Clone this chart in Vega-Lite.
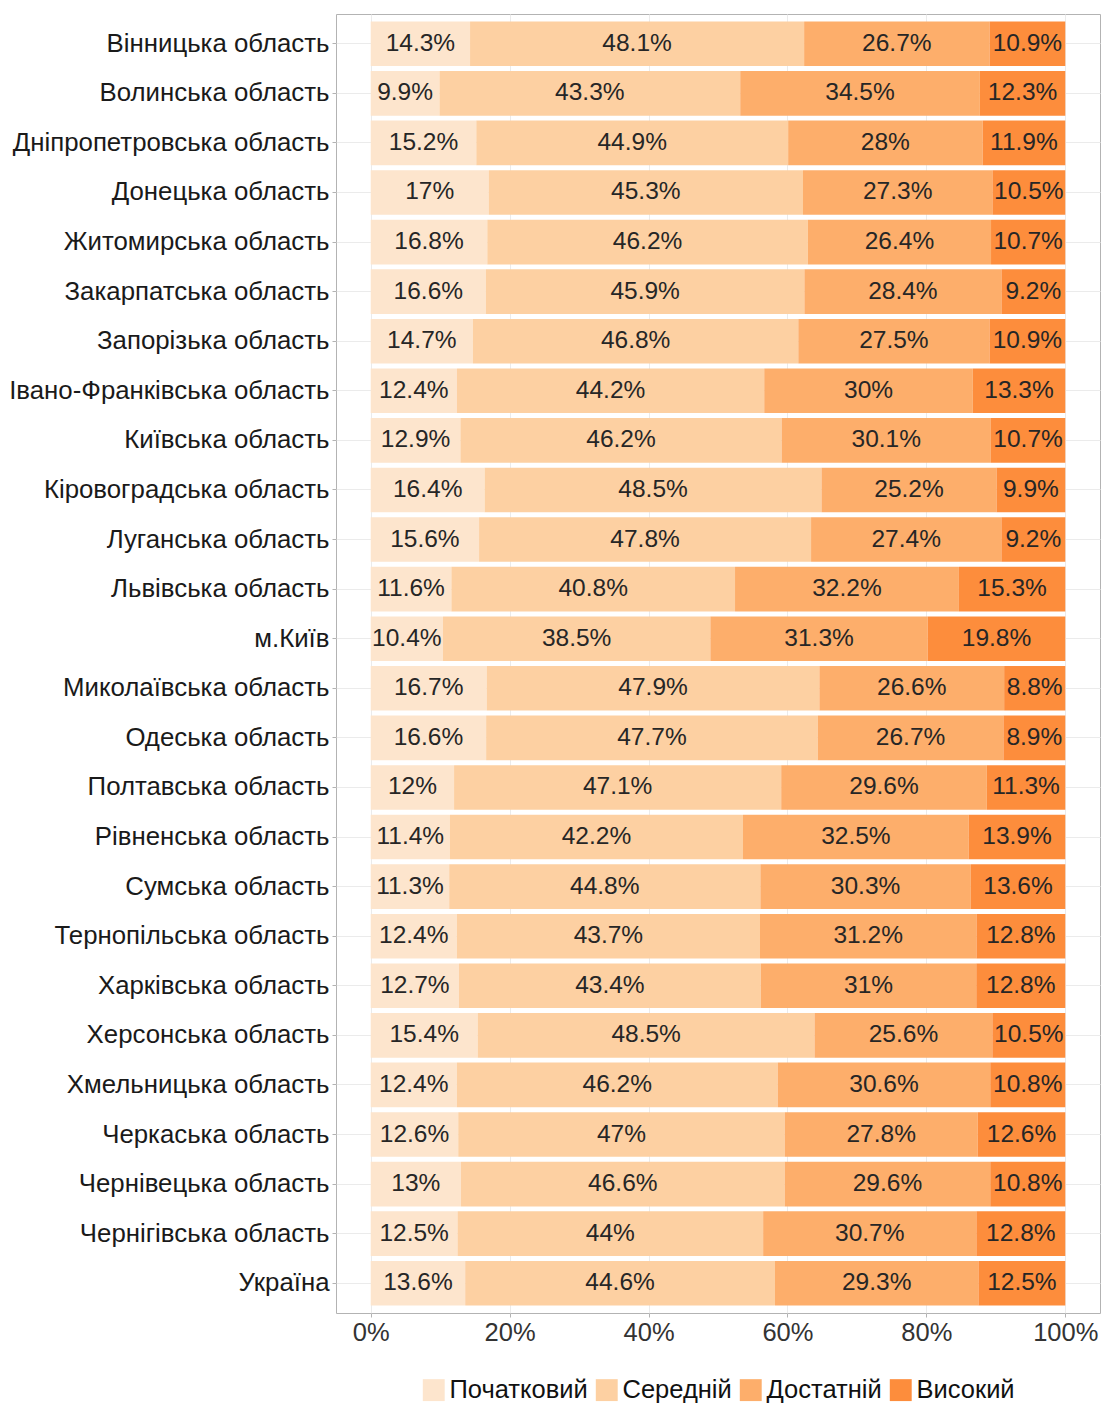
{
 "$schema": "https://vega.github.io/schema/vega-lite/v6.json",
 "width": 764,
 "height": 1299,
 "padding": {"left": 8, "top": 14, "right": 2, "bottom": 5},
 "background": "white",
 "config": {
  "font": "Liberation Sans",
  "view": {"stroke": "#b3b3b3", "strokeWidth": 1},
  "legend": {"layout": {"bottom": {"anchor": "middle"}}}
 },
 "data": {"values": [
  {"r":"Вінницька область","k":"Початковий","o":1,"v":14.3},{"r":"Вінницька область","k":"Середній","o":2,"v":48.1},{"r":"Вінницька область","k":"Достатній","o":3,"v":26.7},{"r":"Вінницька область","k":"Високий","o":4,"v":10.9},
  {"r":"Волинська область","k":"Початковий","o":1,"v":9.9},{"r":"Волинська область","k":"Середній","o":2,"v":43.3},{"r":"Волинська область","k":"Достатній","o":3,"v":34.5},{"r":"Волинська область","k":"Високий","o":4,"v":12.3},
  {"r":"Дніпропетровська область","k":"Початковий","o":1,"v":15.2},{"r":"Дніпропетровська область","k":"Середній","o":2,"v":44.9},{"r":"Дніпропетровська область","k":"Достатній","o":3,"v":28},{"r":"Дніпропетровська область","k":"Високий","o":4,"v":11.9},
  {"r":"Донецька область","k":"Початковий","o":1,"v":17},{"r":"Донецька область","k":"Середній","o":2,"v":45.3},{"r":"Донецька область","k":"Достатній","o":3,"v":27.3},{"r":"Донецька область","k":"Високий","o":4,"v":10.5},
  {"r":"Житомирська область","k":"Початковий","o":1,"v":16.8},{"r":"Житомирська область","k":"Середній","o":2,"v":46.2},{"r":"Житомирська область","k":"Достатній","o":3,"v":26.4},{"r":"Житомирська область","k":"Високий","o":4,"v":10.7},
  {"r":"Закарпатська область","k":"Початковий","o":1,"v":16.6},{"r":"Закарпатська область","k":"Середній","o":2,"v":45.9},{"r":"Закарпатська область","k":"Достатній","o":3,"v":28.4},{"r":"Закарпатська область","k":"Високий","o":4,"v":9.2},
  {"r":"Запорізька область","k":"Початковий","o":1,"v":14.7},{"r":"Запорізька область","k":"Середній","o":2,"v":46.8},{"r":"Запорізька область","k":"Достатній","o":3,"v":27.5},{"r":"Запорізька область","k":"Високий","o":4,"v":10.9},
  {"r":"Івано-Франківська область","k":"Початковий","o":1,"v":12.4},{"r":"Івано-Франківська область","k":"Середній","o":2,"v":44.2},{"r":"Івано-Франківська область","k":"Достатній","o":3,"v":30},{"r":"Івано-Франківська область","k":"Високий","o":4,"v":13.3},
  {"r":"Київська область","k":"Початковий","o":1,"v":12.9},{"r":"Київська область","k":"Середній","o":2,"v":46.2},{"r":"Київська область","k":"Достатній","o":3,"v":30.1},{"r":"Київська область","k":"Високий","o":4,"v":10.7},
  {"r":"Кіровоградська область","k":"Початковий","o":1,"v":16.4},{"r":"Кіровоградська область","k":"Середній","o":2,"v":48.5},{"r":"Кіровоградська область","k":"Достатній","o":3,"v":25.2},{"r":"Кіровоградська область","k":"Високий","o":4,"v":9.9},
  {"r":"Луганська область","k":"Початковий","o":1,"v":15.6},{"r":"Луганська область","k":"Середній","o":2,"v":47.8},{"r":"Луганська область","k":"Достатній","o":3,"v":27.4},{"r":"Луганська область","k":"Високий","o":4,"v":9.2},
  {"r":"Львівська область","k":"Початковий","o":1,"v":11.6},{"r":"Львівська область","k":"Середній","o":2,"v":40.8},{"r":"Львівська область","k":"Достатній","o":3,"v":32.2},{"r":"Львівська область","k":"Високий","o":4,"v":15.3},
  {"r":"м.Київ","k":"Початковий","o":1,"v":10.4},{"r":"м.Київ","k":"Середній","o":2,"v":38.5},{"r":"м.Київ","k":"Достатній","o":3,"v":31.3},{"r":"м.Київ","k":"Високий","o":4,"v":19.8},
  {"r":"Миколаївська область","k":"Початковий","o":1,"v":16.7},{"r":"Миколаївська область","k":"Середній","o":2,"v":47.9},{"r":"Миколаївська область","k":"Достатній","o":3,"v":26.6},{"r":"Миколаївська область","k":"Високий","o":4,"v":8.8},
  {"r":"Одеська область","k":"Початковий","o":1,"v":16.6},{"r":"Одеська область","k":"Середній","o":2,"v":47.7},{"r":"Одеська область","k":"Достатній","o":3,"v":26.7},{"r":"Одеська область","k":"Високий","o":4,"v":8.9},
  {"r":"Полтавська область","k":"Початковий","o":1,"v":12},{"r":"Полтавська область","k":"Середній","o":2,"v":47.1},{"r":"Полтавська область","k":"Достатній","o":3,"v":29.6},{"r":"Полтавська область","k":"Високий","o":4,"v":11.3},
  {"r":"Рівненська область","k":"Початковий","o":1,"v":11.4},{"r":"Рівненська область","k":"Середній","o":2,"v":42.2},{"r":"Рівненська область","k":"Достатній","o":3,"v":32.5},{"r":"Рівненська область","k":"Високий","o":4,"v":13.9},
  {"r":"Сумська область","k":"Початковий","o":1,"v":11.3},{"r":"Сумська область","k":"Середній","o":2,"v":44.8},{"r":"Сумська область","k":"Достатній","o":3,"v":30.3},{"r":"Сумська область","k":"Високий","o":4,"v":13.6},
  {"r":"Тернопільська область","k":"Початковий","o":1,"v":12.4},{"r":"Тернопільська область","k":"Середній","o":2,"v":43.7},{"r":"Тернопільська область","k":"Достатній","o":3,"v":31.2},{"r":"Тернопільська область","k":"Високий","o":4,"v":12.8},
  {"r":"Харківська область","k":"Початковий","o":1,"v":12.7},{"r":"Харківська область","k":"Середній","o":2,"v":43.4},{"r":"Харківська область","k":"Достатній","o":3,"v":31},{"r":"Харківська область","k":"Високий","o":4,"v":12.8},
  {"r":"Херсонська область","k":"Початковий","o":1,"v":15.4},{"r":"Херсонська область","k":"Середній","o":2,"v":48.5},{"r":"Херсонська область","k":"Достатній","o":3,"v":25.6},{"r":"Херсонська область","k":"Високий","o":4,"v":10.5},
  {"r":"Хмельницька область","k":"Початковий","o":1,"v":12.4},{"r":"Хмельницька область","k":"Середній","o":2,"v":46.2},{"r":"Хмельницька область","k":"Достатній","o":3,"v":30.6},{"r":"Хмельницька область","k":"Високий","o":4,"v":10.8},
  {"r":"Черкаська область","k":"Початковий","o":1,"v":12.6},{"r":"Черкаська область","k":"Середній","o":2,"v":47},{"r":"Черкаська область","k":"Достатній","o":3,"v":27.8},{"r":"Черкаська область","k":"Високий","o":4,"v":12.6},
  {"r":"Чернівецька область","k":"Початковий","o":1,"v":13},{"r":"Чернівецька область","k":"Середній","o":2,"v":46.6},{"r":"Чернівецька область","k":"Достатній","o":3,"v":29.6},{"r":"Чернівецька область","k":"Високий","o":4,"v":10.8},
  {"r":"Чернігівська область","k":"Початковий","o":1,"v":12.5},{"r":"Чернігівська область","k":"Середній","o":2,"v":44},{"r":"Чернігівська область","k":"Достатній","o":3,"v":30.7},{"r":"Чернігівська область","k":"Високий","o":4,"v":12.8},
  {"r":"Україна","k":"Початковий","o":1,"v":13.6},{"r":"Україна","k":"Середній","o":2,"v":44.6},{"r":"Україна","k":"Достатній","o":3,"v":29.3},{"r":"Україна","k":"Високий","o":4,"v":12.5}
 ]},
 "transform": [{"calculate": "datum.v + '%'", "as": "lab"}],
 "encoding": {
  "y": {"field": "r", "type": "nominal", "sort": null,
   "scale": {"paddingInner": 0.1, "paddingOuter": 0.15},
   "axis": {"title": null, "labelFontSize": 25.8, "labelColor": "#1a1a1a", "labelPadding": 3, "tickColor": "#b3b3b3", "tickSize": 4, "domain": false, "grid": true, "gridColor": "#ebebeb", "labelLimit": 500}}
 },
 "layer": [
  {"mark": {"type": "bar"},
   "encoding": {
    "x": {"field": "v", "type": "quantitative", "stack": "normalize",
     "scale": {"domain": [-0.05, 1.05], "nice": false, "zero": false},
     "axis": {"title": null, "values": [0, 0.2, 0.4, 0.6, 0.8, 1], "format": ".0%", "labelFontSize": 25.5, "labelColor": "#333333", "tickColor": "#b3b3b3", "tickSize": 4, "domain": false, "grid": true, "gridColor": "#ebebeb", "labelPadding": 3}},
    "color": {"field": "k", "type": "nominal",
     "scale": {"domain": ["Початковий", "Середній", "Достатній", "Високий"], "range": ["#fde5cd", "#fdd0a2", "#fdae6b", "#fd8d3c"]},
     "legend": {"title": null, "orient": "bottom", "direction": "horizontal", "symbolType": "square", "symbolSize": 480, "symbolStrokeWidth": 0, "labelFontSize": 25.5, "labelColor": "#111111", "columnPadding": 6, "offset": 31, "labelOffset": 3}},
    "order": {"field": "o", "type": "quantitative"}
   }},
  {"mark": {"type": "text", "fontSize": 24.5, "color": "#262626"},
   "encoding": {
    "x": {"field": "v", "type": "quantitative", "stack": "normalize", "bandPosition": 0.5},
    "text": {"field": "lab"},
    "order": {"field": "o", "type": "quantitative"}
   }}
 ]
}
